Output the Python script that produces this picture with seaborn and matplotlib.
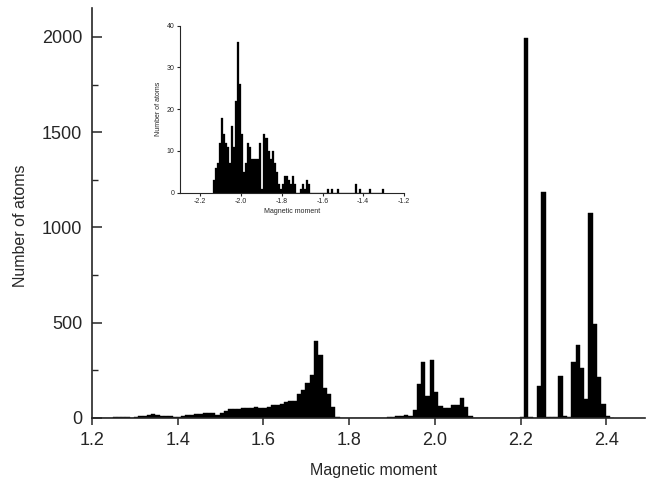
import numpy as np
import pandas as pd
import matplotlib
matplotlib.use("Agg")
import matplotlib.pyplot as plt
import seaborn as sns

# Main histogram: counts per 0.01 bin, first bin starts near 1.20
main_start = 1.198
main_counts = [
    1, 1, 1, 2, 2, 3, 3, 3, 3, 2,            # 1.20 - 1.29
    3, 10, 13, 18, 22, 17, 12, 10, 8, 7,     # 1.30 - 1.39
    6, 9, 14, 17, 22, 20, 25, 24, 25, 18,    # 1.40 - 1.49
    28, 38, 45, 45, 48, 50, 52, 55, 58, 52,  # 1.50 - 1.59
    55, 60, 68, 68, 72, 83, 89, 91, 128, 145,  # 1.60 - 1.69
    184, 227, 402, 332, 157, 128, 58, 5, 2, 1,  # 1.70 - 1.79
    1, 0, 1, 0, 1, 0, 1, 2, 2, 3,            # 1.80 - 1.89
    5, 9, 8, 16, 12, 40, 180, 296, 117, 303,  # 1.90 - 1.99
    135, 61, 54, 54, 68, 68, 103, 58, 9, 1,  # 2.00 - 2.09
    0, 1, 0, 1, 0, 0, 1, 0, 1, 2,            # 2.10 - 2.19
    3, 1995, 3, 2, 170, 1188, 4, 3, 5, 222,  # 2.20 - 2.29
    10, 3, 296, 383, 261, 100, 1078, 493, 214, 73,  # 2.30 - 2.39
    8, 2,                                    # 2.40 - 2.41
]

# Inset histogram: counts per 0.01 bin, first bin starts at -2.14
inset_start = -2.14
inset_counts = [
    3, 6, 7, 12, 18, 14, 12, 11, 7, 16,      # -2.14 .. -2.05
    11, 22, 36, 26, 14, 5, 7, 12, 11, 8,     # -2.04 .. -1.95
    8, 8, 8, 12, 1, 14, 13, 10, 8, 10,       # -1.94 .. -1.85
    7, 5, 2, 1, 2, 4, 4, 3, 2, 4,            # -1.84 .. -1.75
    2, 0, 0, 1, 2, 1, 3, 2, 0, 0,            # -1.74 .. -1.65
    0, 0, 0, 0, 0, 0, 1, 0, 1, 0,            # -1.64 .. -1.55
    0, 1, 0, 0, 0, 0, 0, 0, 0, 0,            # -1.54 .. -1.45
    2, 0, 1, 0, 0, 0, 0, 1, 0, 0,            # -1.44 .. -1.35
    0, 0, 0, 1,                              # -1.34 .. -1.31
]

main_ticks = [1.2, 1.4, 1.6, 1.8, 2.0, 2.2, 2.4]
inset_ticks = [-2.2, -2.0, -1.8, -1.6, -1.4, -1.2]

sns.set_style("ticks")
plt.rcParams["font.family"] = ["Liberation Sans", "DejaVu Sans"]
plt.rcParams["axes.unicode_minus"] = False

width = 0.01
main_edges = main_start + width * np.arange(len(main_counts) + 1)
main_df = pd.DataFrame({"m": main_edges[:-1] + width / 2, "n": main_counts})
inset_edges = inset_start + width * np.arange(len(inset_counts) + 1)
inset_df = pd.DataFrame({"m": inset_edges[:-1] + width / 2, "n": inset_counts})

fig = plt.figure(figsize=(6.46, 4.91), dpi=100)
ax = fig.add_axes([0.1424, 0.1487, 0.856, 0.835])

sns.histplot(data=main_df, x="m", weights="n", bins=list(main_edges), color="black",
             alpha=1, edgecolor="black", linewidth=0.3, ax=ax)
ax.set_xlim(1.2, 2.49)
ax.set_ylim(0, 2152)
ax.set_xticks(main_ticks)
ax.set_xticklabels([f"{t:.1f}" for t in main_ticks])
ax.set_yticks([0, 500, 1000, 1500, 2000])
ax.set_yticks(np.arange(250, 2150, 500), minor=True)
ax.tick_params(axis="y", which="major", direction="in", length=7, width=1.1,
               labelsize=13, pad=7)
ax.tick_params(axis="y", which="minor", direction="in", length=4, width=1)
ax.tick_params(axis="x", direction="out", length=5, width=1.1, labelsize=13, pad=5)
ax.set_xlabel("Magnetic moment", fontsize=11.5)
ax.set_ylabel("Number of atoms", fontsize=11.5)
ax.xaxis.set_label_coords(0.51, -0.11)
ax.yaxis.set_label_coords(-0.116, 0.47)
sns.despine(ax=ax)
for s in ["left", "bottom"]:
    ax.spines[s].set_linewidth(1.2)

# inset
axin = fig.add_axes([0.2786, 0.6075, 0.3467, 0.3401])
sns.histplot(data=inset_df, x="m", weights="n", bins=list(inset_edges), color="black",
             alpha=1, edgecolor="black", linewidth=0.2, ax=axin)
axin.set_xlim(-2.3, -1.2)
axin.set_ylim(0, 40)
axin.set_xticks(inset_ticks)
axin.set_xticklabels([f"{t:.1f}" for t in inset_ticks])
axin.set_yticks([0, 10, 20, 30, 40])
axin.tick_params(direction="out", length=2, width=0.8, labelsize=5, pad=2)
axin.set_xlabel("Magnetic moment", fontsize=5, labelpad=2)
axin.set_ylabel("Number of atoms", fontsize=5, labelpad=3)
axin.patch.set_alpha(0)
sns.despine(ax=axin)
for s in ["left", "bottom"]:
    axin.spines[s].set_linewidth(0.8)

fig.savefig("out.png", dpi=100)
